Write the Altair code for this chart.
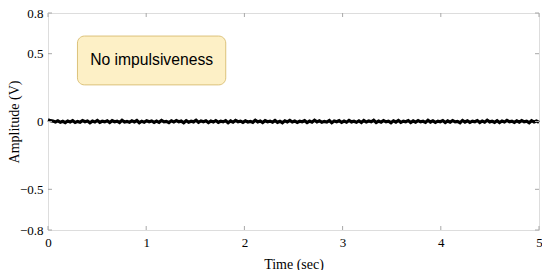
import altair as alt
import pandas as pd

# Signal samples (V), hand-read small noise around zero
amp = [0.012, 0.006, 0.003, -0.004, 0.005, -0.006, 0.002, -0.008, 0.004, -0.003,
       0.006, -0.007, 0.001, -0.005, 0.007, -0.002, 0.004, -0.009, 0.003, -0.004,
       0.008, -0.006, 0.002, -0.003, 0.005, -0.008, 0.006, -0.002, 0.003, -0.007,
       0.009, -0.004, 0.001, -0.006, 0.005, -0.003, 0.007, -0.009, 0.002, -0.005,
       0.006, -0.002, 0.004, -0.007, 0.003, -0.006, 0.008, -0.003, 0.001, -0.008,
       0.005, -0.004, 0.007, -0.002, 0.003, -0.009, 0.006, -0.005, 0.002, -0.003,
       0.009, -0.006, 0.004, -0.002, 0.005, -0.008, 0.003, -0.004, 0.007, -0.006,
       0.002, -0.003, 0.006, -0.009, 0.004, -0.005, 0.008, -0.002, 0.003, -0.007,
       0.005, -0.004, 0.001, -0.006, 0.009, -0.003, 0.004, -0.008, 0.006, -0.002,
       0.003, -0.005, 0.007, -0.006, 0.002, -0.009, 0.005, -0.003, 0.008, -0.004,
       0.004, -0.007, 0.002, -0.002, 0.006, -0.008, 0.003, -0.005, 0.009, -0.003,
       0.005, -0.006, 0.001, -0.004, 0.007, -0.009, 0.004, -0.002, 0.006, -0.007,
       0.003, -0.005, 0.008, -0.003, 0.002, -0.006, 0.005, -0.008, 0.007, -0.004,
       0.004, -0.002, 0.009, -0.007, 0.003, -0.005, 0.006, -0.003, 0.002, -0.009,
       0.005, -0.004, 0.008, -0.006, 0.003, -0.002, 0.007, -0.008, 0.004, -0.005,
       0.006, -0.003, 0.002, -0.007, 0.009, -0.004, 0.005, -0.006, 0.003, -0.002,
       0.007, -0.008, 0.004, -0.005, 0.006, -0.003, 0.001, -0.009, 0.008, -0.004,
       0.005, -0.006, 0.003, -0.002, 0.007, -0.007, 0.004, -0.005, 0.009, -0.003,
       0.002, -0.006, 0.006, -0.008, 0.004, -0.004, 0.008, -0.002, 0.003, -0.007,
       0.005, -0.005, 0.007, -0.003, 0.002, -0.009, 0.006, -0.004, 0.004, -0.006]
n = len(amp)
time = [5.0 * i / (n - 1) for i in range(n)]

x_ticks = [0, 1, 2, 3, 4, 5]
y_ticks = [-0.8, -0.5, 0, 0.5, 0.8]

W, H = 491, 217
serif = "Liberation Serif"
frame = "#a8a8a8"

df = pd.DataFrame({"t": time, "a": amp})
xscale = alt.Scale(domain=[0, 5], nice=False, zero=False)
yscale = alt.Scale(domain=[-0.8, 0.8], nice=False, zero=False)

line = alt.Chart(df).mark_line(color="black", strokeWidth=3.2).encode(
    x=alt.X("t:Q", scale=xscale,
            axis=alt.Axis(title="Time (sec)", values=x_ticks, format="d", tickSize=0,
                          domain=False, grid=False, labelPadding=6, labelFlush=False,
                          labelFont=serif, labelFontSize=13, labelColor="black",
                          titleFont=serif, titleFontSize=14, titleFontWeight="normal",
                          titleColor="black", titlePadding=8)),
    y=alt.Y("a:Q", scale=yscale,
            axis=alt.Axis(title="Amplitude (V)", values=y_ticks, tickSize=0,
                          domain=False, grid=False, labelPadding=5, labelFlush=False,
                          labelExpr="datum.value == 0 ? '0' : format(datum.value, '.1f')",
                          labelFont=serif, labelFontSize=13, labelColor="black",
                          titleFont=serif, titleFontSize=14, titleFontWeight="normal",
                          titleColor="black", titleX=-34, titleY=H / 2,
                          titleAngle=270, titleAlign="center", titleBaseline="middle")),
)

xt = pd.DataFrame({"v": x_ticks})
yt = pd.DataFrame({"v": y_ticks})
xb = alt.Chart(xt).mark_rule(color=frame, strokeWidth=1).encode(
    x=alt.X("v:Q", scale=xscale), y=alt.value(H), y2=alt.value(H - 4))
xtp = alt.Chart(xt).mark_rule(color=frame, strokeWidth=1).encode(
    x=alt.X("v:Q", scale=xscale), y=alt.value(0), y2=alt.value(4))
yl = alt.Chart(yt).mark_rule(color=frame, strokeWidth=1).encode(
    y=alt.Y("v:Q", scale=yscale), x=alt.value(0), x2=alt.value(4))
yr = alt.Chart(yt).mark_rule(color=frame, strokeWidth=1).encode(
    y=alt.Y("v:Q", scale=yscale), x=alt.value(W), x2=alt.value(W - 4))

box_df = pd.DataFrame({"x1": [0.30], "x2": [1.81], "y1": [0.27], "y2": [0.63],
                       "tx": [1.055], "ty": [0.45], "label": ["No impulsiveness"]})
box = alt.Chart(box_df).mark_rect(fill="#fdf0c6", stroke="#dcc27a", strokeWidth=1,
                                  cornerRadius=7).encode(
    x=alt.X("x1:Q", scale=xscale), x2="x2:Q",
    y=alt.Y("y1:Q", scale=yscale), y2="y2:Q")
txt = alt.Chart(box_df).mark_text(font="Liberation Sans", fontSize=15.7, color="black",
                                  align="center", baseline="middle").encode(
    x=alt.X("tx:Q", scale=xscale), y=alt.Y("ty:Q", scale=yscale), text="label:N")

chart = alt.layer(line, xb, xtp, yl, yr, box, txt).properties(
    width=W, height=H,
    autosize=alt.AutoSizeParams(type="none"),
    padding={"left": 40, "top": 5, "right": 3, "bottom": 40},
).configure_view(stroke=frame, strokeWidth=1).configure(background="white")

chart.save("out.html", embed_options={"renderer": "svg", "actions": False})
